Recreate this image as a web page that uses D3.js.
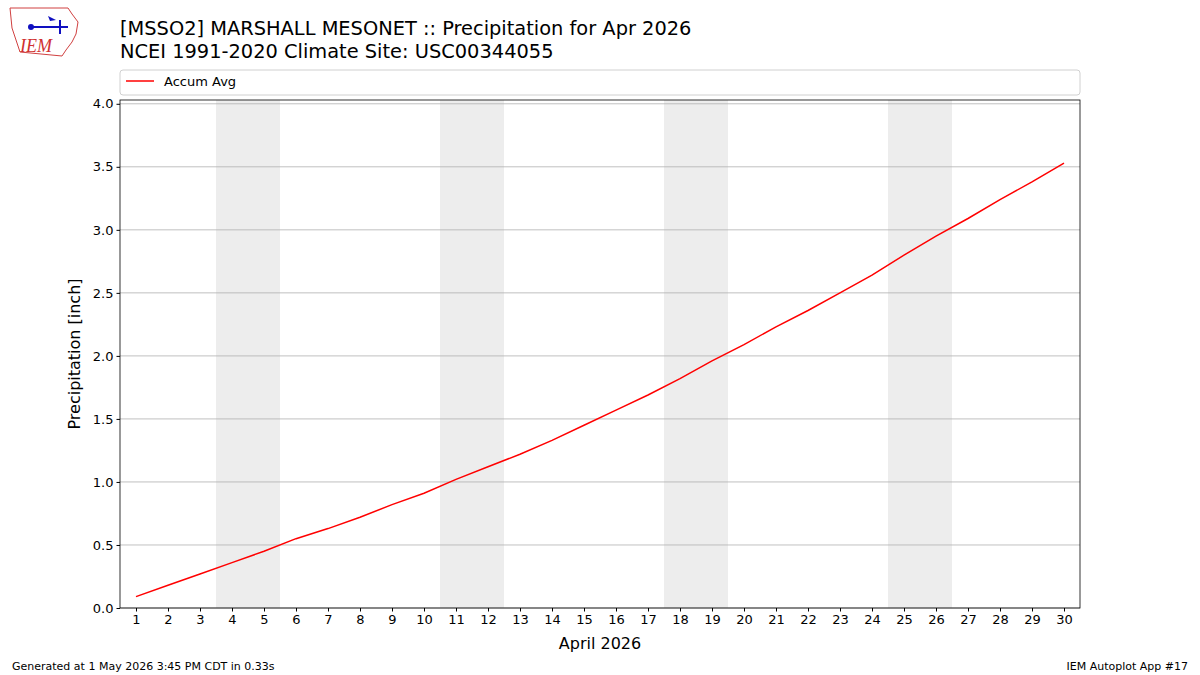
<!DOCTYPE html>
<html><head><meta charset="utf-8">
<script src="https://cdn.jsdelivr.net/npm/d3@7"></script>
<style>body{margin:0;background:#fff;font-family:"DejaVu Sans",sans-serif}</style>
</head><body><svg id="c" width="1200" height="675"></svg>
<script>
// data
var days = d3.range(1, 31);
var accumAvg = [0.09,0.18,0.27,0.36,0.45,0.55,0.63,0.72,0.82,0.91,1.02,1.12,1.22,1.33,1.45,1.57,1.69,1.82,1.96,2.09,2.23,2.36,2.50,2.64,2.80,2.95,3.09,3.24,3.38,3.53];
var weekends = [4, 11, 18, 25];
var yTicks = [0,0.5,1,1.5,2,2.5,3,3.5,4];

var svg = d3.select("#c");
var L = 120, R = 1080, T = 100, B = 608;
var x = d3.scaleLinear().domain([0.5, 30.5]).range([L, R]);
var y = d3.scaleLinear().domain([0, 4.03]).range([B, T]);

//weekend shading
svg.selectAll(".wk").data(weekends).enter().append("rect")
    .attr("x", d => x(d - 0.5)).attr("width", x(2) - x(0))
    .attr("y", T).attr("height", B - T).attr("fill", "#ededed");

//grid
svg.selectAll(".gl").data(yTicks).enter().append("line")
    .attr("x1", L).attr("x2", R).attr("y1", d => y(d)).attr("y2", d => y(d))
    .attr("stroke", "#b0b0b0").attr("stroke-width", 0.8);

svg.append("path").datum(days)
    .attr("fill", "none").attr("stroke", "red").attr("stroke-width", 1.5)
    .attr("d", d3.line().x(d => x(d)).y((d, i) => y(accumAvg[i])));

var ax = svg.append("g").attr("transform", "translate(0," + B + ")")
    .call(d3.axisBottom(x).tickValues(days).tickFormat(d3.format("d")).tickSizeOuter(0).tickSize(3.5));
var ay = svg.append("g").attr("transform", "translate(" + L + ",0)")
    .call(d3.axisLeft(y).tickValues(yTicks).tickFormat(d3.format(".1f")).tickSizeOuter(0).tickSize(3.5));
svg.selectAll(".tick text").attr("font-size", 13).attr("font-family", "DejaVu Sans").attr("fill", "#000");
svg.selectAll(".domain").remove();
svg.append("rect").attr("x", L).attr("y", T).attr("width", R - L).attr("height", B - T)
    .attr("fill", "none").attr("stroke", "#000").attr("stroke-width", 0.8);

svg.append("text").attr("x", 600).attr("y", 649).attr("text-anchor", "middle")
    .attr("font-size", 16).text("April 2026");
svg.append("text").attr("transform", "translate(80,354) rotate(-90)").attr("text-anchor", "middle")
    .attr("font-size", 16).text("Precipitation [inch]");

//titles
svg.append("text").attr("x", 120).attr("y", 35).attr("font-size", 19.4)
    .text("[MSSO2] MARSHALL MESONET :: Precipitation for Apr 2026");
svg.append("text").attr("x", 120).attr("y", 58).attr("font-size", 19.4)
    .text("NCEI 1991-2020 Climate Site: USC00344055");

//legend
svg.append("rect").attr("x", 120).attr("y", 70).attr("width", 960).attr("height", 25).attr("rx", 3)
    .attr("fill", "#fff").attr("stroke", "#d0d0d0");
svg.append("line").attr("x1", 126).attr("x2", 154).attr("y1", 81).attr("y2", 81)
    .attr("stroke", "red").attr("stroke-width", 1.5);
svg.append("text").attr("x", 164).attr("y", 86).attr("font-size", 13).text("Accum Avg");

//footer
svg.append("text").attr("x", 12).attr("y", 670).attr("font-size", 11).text("Generated at 1 May 2026 3:45 PM CDT in 0.33s");
svg.append("text").attr("x", 1188).attr("y", 670).attr("font-size", 11).attr("text-anchor", "end").text("IEM Autoplot App #17");

//logo
var lg = svg.append("g");
lg.append("path").attr("d", "M10,8 L68,8 L72,14 L78,22 L76,34 L72,42 L66,50 L62,56 L20,52 L16,40 L12,28 Z")
    .attr("fill", "#fff").attr("stroke", "#d04040").attr("stroke-width", 1);
lg.append("line").attr("x1", 30).attr("x2", 68).attr("y1", 27).attr("y2", 27).attr("stroke", "#1010c0").attr("stroke-width", 2);
lg.append("line").attr("x1", 60).attr("x2", 60).attr("y1", 20).attr("y2", 34).attr("stroke", "#1010c0").attr("stroke-width", 2);
lg.append("circle").attr("cx", 31).attr("cy", 27).attr("r", 3).attr("fill", "#1010c0");
lg.append("path").attr("d", "M48,16 L56,20 L50,21 Z").attr("fill", "#1010c0");
lg.append("text").attr("x", 20).attr("y", 52).attr("font-size", 18).attr("font-style", "italic")
    .attr("font-family", "Liberation Serif").attr("fill", "#d03030").text("IEM");
</script></body></html>
